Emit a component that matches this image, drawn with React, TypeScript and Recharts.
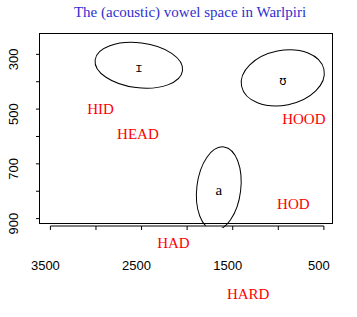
import React from 'react';
import {
  ScatterChart,
  XAxis,
  YAxis,
  ReferenceArea,
  ReferenceDot,
  ReferenceLine,
  Customized,
} from 'recharts';

const TITLE = 'The (acoustic) vowel space in Warlpiri';

// Axis ticks (Hz); only some of them carry a label
const xTicks = [3500, 3000, 2500, 2000, 1500, 1000, 500];
const xTickLabels = [3500, 2500, 1500, 500];
const yTicks = [300, 400, 500, 600, 700, 800, 900];
const yTickLabels = [300, 500, 700, 900];

// Warlpiri vowel distributions: centre F2 / F1, spread along each axis, tilt (deg)
const vowelSymbols = ['ɪ', 'ʊ', 'a'];
const vowelF2 = [2530, 951, 1653];
const vowelF1 = [340, 386, 790];
const vowelF2Spread = [483, 461, 241];
const vowelF1Spread = [82, 100, 153];
const vowelTilt = [7, -11.5, 7];

// English reference words
const wordLabels = ['HID', 'HEAD', 'HOOD', 'HOD', 'HAD', 'HARD'];
const wordF2 = [2950, 2540, 720, 835, 2150, 1330];
const wordF1 = [500, 590, 535, 845, 990, 1175];

const X_DOMAIN: [number, number] = [400, 3625];
const Y_DOMAIN: [number, number] = [222, 927];
const BOX_BOTTOM = 916;
// ellipses stop just under the x axis line
const ELLIPSE_LIMIT = 931;

const SANS = '"Liberation Sans", Arial, sans-serif';
const SERIF = '"Liberation Serif", "Times New Roman", serif';
const MONO = '"DejaVu Sans Mono", monospace';

const XTick = (p: any) => {
  const v = p.payload.value;
  if (!xTickLabels.includes(v)) return <g />;
  return (
    <text x={p.x - 5} y={p.y} dy="0.71em" textAnchor="middle" fontFamily={SANS} fontSize={13} fill="#000">
      {v}
    </text>
  );
};

const YTick = (p: any) => {
  const v = p.payload.value;
  if (!yTickLabels.includes(v)) return <g />;
  return (
    <text
      transform={`translate(${p.x},${p.y + 5}) rotate(-90)`}
      x={0}
      y={0}
      textAnchor="middle"
      fontFamily={SANS}
      fontSize={13}
      fill="#000"
    >
      {v}
    </text>
  );
};

const boxShape = (p: any) => {
  const x = Math.min(p.x, p.x + p.width);
  const y = Math.min(p.y, p.y + p.height);
  return (
    <rect
      x={Math.round(x) + 0.5}
      y={Math.round(y) + 0.5}
      width={Math.round(Math.abs(p.width)) - 1}
      height={Math.round(Math.abs(p.height))}
      fill="none"
      stroke="#000"
      strokeWidth={1}
      shapeRendering="crispEdges"
    />
  );
};

const ellipseShape = (i: number) => (p: any) => {
  const x = Math.min(p.x, p.x + p.width);
  const y = Math.min(p.y, p.y + p.height);
  const w = Math.abs(p.width);
  const h = Math.abs(p.height);
  const cx = x + w / 2;
  const cy = y + h / 2;
  // pixel position of the lower limit, from this area's own F1 mapping
  const top = vowelF1[i] - vowelF1Spread[i];
  const pxPerUnit = h / (2 * vowelF1Spread[i]);
  const limitY = y + (ELLIPSE_LIMIT - top) * pxPerUnit;
  const clipId = `vowel-clip-${i}`;
  const ipa = vowelSymbols[i] !== 'a';
  return (
    <g>
      <defs>
        <clipPath id={clipId}>
          <rect x={x - 20} y={y - 20} width={w + 40} height={Math.max(0, limitY - y + 20)} />
        </clipPath>
      </defs>
      <ellipse
        cx={cx}
        cy={cy}
        rx={w / 2}
        ry={h / 2}
        transform={`rotate(${vowelTilt[i]} ${cx} ${cy})`}
        fill="none"
        stroke="#000"
        strokeWidth={1}
        clipPath={`url(#${clipId})`}
      />
      <text
        x={cx}
        y={cy + 7}
        textAnchor="middle"
        fontFamily={ipa ? MONO : SERIF}
        fontSize={ipa ? 12 : 15}
        fill="#000"
      >
        {vowelSymbols[i]}
      </text>
    </g>
  );
};

const wordShape = (label: string) => (p: any) => (
  <text x={p.cx} y={p.cy + 5} textAnchor="middle" fontFamily={SERIF} fontSize={15} fill="#ff0000">
    {label}
  </text>
);

const Title = () => (
  <text x={190} y={17} textAnchor="middle" fontFamily={SERIF} fontSize={15} fill="#2f2fd0">
    {TITLE}
  </text>
);

export default function App() {
  return (
    <div style={{ position: 'absolute', left: 0, top: 0, background: '#fff' }}>
      <ScatterChart width={357} height={317} margin={{ top: 33, right: 24, bottom: 0, left: 0 }}>
        <XAxis
          type="number"
          dataKey="f2"
          domain={X_DOMAIN}
          allowDataOverflow
          reversed
          ticks={xTicks}
          interval={0}
          height={91}
          axisLine={false}
          tickLine={{ stroke: '#000' }}
          tickSize={4}
          tickMargin={31}
          tick={XTick}
        />
        <YAxis
          type="number"
          dataKey="f1"
          domain={Y_DOMAIN}
          allowDataOverflow
          reversed
          ticks={yTicks}
          interval={0}
          width={39}
          axisLine={false}
          tickLine={{ stroke: '#000' }}
          tickSize={3}
          tickMargin={18}
          tick={YTick}
        />
        <ReferenceArea
          x1={X_DOMAIN[1]}
          x2={X_DOMAIN[0]}
          y1={Y_DOMAIN[0]}
          y2={BOX_BOTTOM}
          ifOverflow="visible"
          shape={boxShape}
        />
        <ReferenceLine
          segment={[
            { x: xTicks[0], y: Y_DOMAIN[1] },
            { x: xTicks[xTicks.length - 1], y: Y_DOMAIN[1] },
          ]}
          stroke="#000"
          strokeWidth={1}
          ifOverflow="visible"
        />
        {vowelSymbols.map((s, i) => (
          <ReferenceArea
            key={s}
            x1={vowelF2[i] + vowelF2Spread[i]}
            x2={vowelF2[i] - vowelF2Spread[i]}
            y1={vowelF1[i] - vowelF1Spread[i]}
            y2={vowelF1[i] + vowelF1Spread[i]}
            ifOverflow="visible"
            shape={ellipseShape(i)}
          />
        ))}
        {wordLabels.map((w, i) => (
          <ReferenceDot
            key={w}
            x={wordF2[i]}
            y={wordF1[i]}
            r={0}
            ifOverflow="visible"
            shape={wordShape(w)}
          />
        ))}
        <Customized component={Title} />
      </ScatterChart>
    </div>
  );
}
